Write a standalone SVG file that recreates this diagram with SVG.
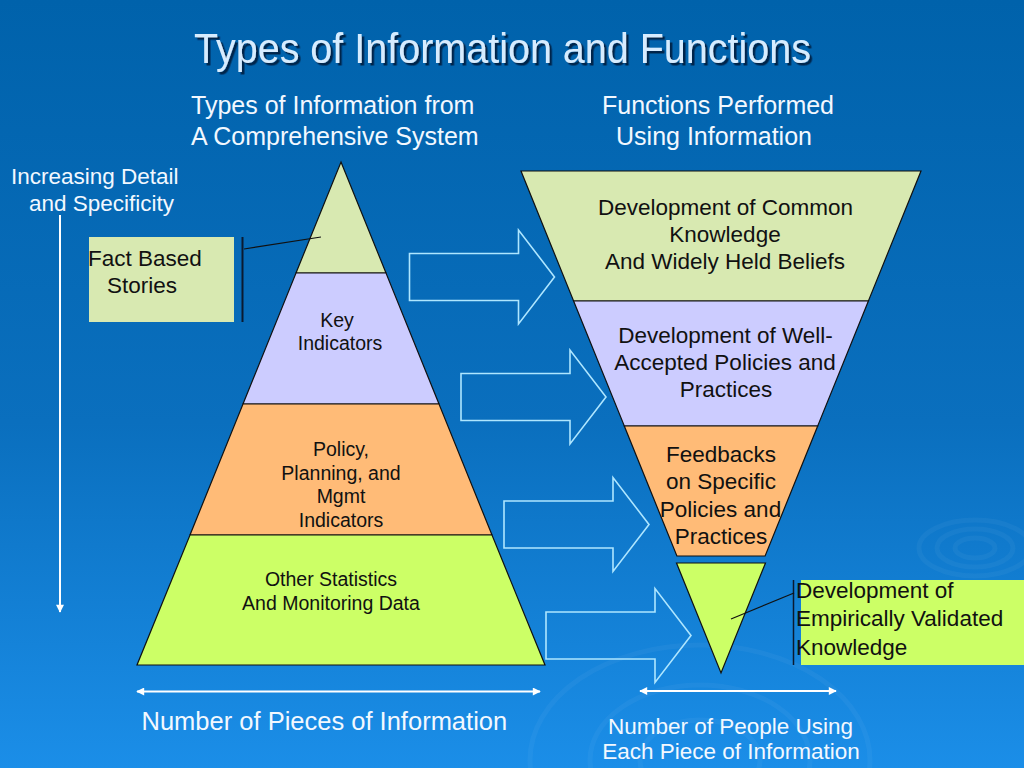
<svg xmlns="http://www.w3.org/2000/svg" xmlns:xlink="http://www.w3.org/1999/xlink" width="1024" height="768" viewBox="0 0 1024 768">
<defs>
<linearGradient id="bg" x1="0" y1="0" x2="0" y2="1">
<stop offset="0" stop-color="#0062ab"/>
<stop offset="0.55" stop-color="#0a6fbe"/>
<stop offset="1" stop-color="#1b8ee8"/>
</linearGradient>
<filter id="shadow" x="-5%" y="-20%" width="110%" height="140%">
<feDropShadow dx="2.5" dy="2.5" stdDeviation="0.6" flood-color="#001a40" flood-opacity="0.9"/>
</filter>
<marker id="ah" viewBox="0 0 10 10" refX="9" refY="5" markerWidth="9" markerHeight="8" markerUnits="userSpaceOnUse" orient="auto-start-reverse">
<path d="M0,0 L10,5 L0,10 Z" fill="#ffffff"/>
</marker>
<path id="blockArrow" d="M0,-23.5 H109 V-47 L145,0 L109,47 V23.5 H0 Z"/>
</defs>
<style>
.band{stroke:#111;stroke-width:1.2;}
.g1{fill:#d8e9b1;}
.lav{fill:#ccccff;}
.org{fill:#ffbb77;}
.lime{fill:#ccff66;}
.dk{font-family:"Liberation Sans",Arial,sans-serif;fill:#111;text-anchor:middle;}
.wt{font-family:"Liberation Sans",Arial,sans-serif;fill:#f2f8ff;}
.barrow{fill:none;stroke:#aee6ff;stroke-width:1.6;stroke-linejoin:miter;}
.wline{stroke:#ffffff;stroke-width:2;fill:none;}
.ripple{fill:none;stroke:#ffffff;stroke-opacity:0.04;stroke-width:5;}
</style>

<rect width="1024" height="768" fill="url(#bg)"/>
<g id="ripples">
<ellipse class="ripple" cx="975" cy="548" rx="20" ry="10"/>
<ellipse class="ripple" cx="975" cy="548" rx="38" ry="19"/>
<ellipse class="ripple" cx="975" cy="548" rx="56" ry="28"/>
<ellipse class="ripple" cx="700" cy="760" rx="60" ry="40"/>
<ellipse class="ripple" cx="700" cy="760" rx="110" ry="75"/>
<ellipse class="ripple" cx="700" cy="760" rx="170" ry="115"/>
</g>

<text class="wt" x="194" y="63" font-size="42" textLength="617" lengthAdjust="spacingAndGlyphs" filter="url(#shadow)" style="fill:#d6ecff">Types of Information and Functions</text>

<g id="subtitle-left">
<text class="wt" x="191" y="114" font-size="25">Types of Information from</text>
<text class="wt" x="191" y="145" font-size="25">A Comprehensive System</text>
</g>
<g id="subtitle-right">
<text class="wt" x="718" y="114" font-size="25" style="text-anchor:middle">Functions Performed</text>
<text class="wt" x="714" y="145" font-size="25" style="text-anchor:middle">Using Information</text>
</g>

<g id="increasing-label">
<text class="wt" x="11" y="184" font-size="22.5">Increasing Detail</text>
<text class="wt" x="29" y="211" font-size="22.5">and Specificity</text>
</g>

<g id="pyramid">
<g id="fact-top"><polygon class="band g1" points="341,162 386,273 296,273"/></g>
<g id="key-indicators">
<polygon class="band lav" points="296,273 386,273 439,404 243,404"/>
<text class="dk" font-size="19.5"><tspan x="337" y="327">Key</tspan><tspan x="340" y="350">Indicators</tspan></text>
</g>
<g id="policy-indicators">
<polygon class="band org" points="243,404 439,404 492,535 190,535"/>
<text class="dk" font-size="19.5"><tspan x="341" y="456">Policy,</tspan><tspan x="341" y="480">Planning, and</tspan><tspan x="341" y="503">Mgmt</tspan><tspan x="341" y="527">Indicators</tspan></text>
</g>
<g id="other-statistics">
<polygon class="band lime" points="190,535 492,535 545,665 137,665"/>
<text class="dk" font-size="19.5"><tspan x="331" y="586">Other Statistics</tspan><tspan x="331" y="610">And Monitoring Data</tspan></text>
</g>
</g>

<g id="fact-based-stories">
<rect x="89" y="237" width="145" height="85" class="g1"/>
<text class="dk" font-size="22.5" style="text-anchor:start"><tspan x="88" y="266">Fact Based</tspan><tspan x="107" y="293">Stories</tspan></text>
</g>

<g id="funnel">
<g id="common-knowledge">
<polygon class="band g1" points="521,171 921,171 868.4,301 573.6,301"/>
<text class="dk" font-size="22.5"><tspan x="725.5" y="215">Development of Common</tspan><tspan x="725" y="242">Knowledge</tspan><tspan x="725" y="269">And Widely Held Beliefs</tspan></text>
</g>
<g id="well-accepted">
<polygon class="band lav" points="573.6,301 868.4,301 817.7,426 624.3,426"/>
<text class="dk" font-size="22.5"><tspan x="725.5" y="343">Development of Well-</tspan><tspan x="725" y="370">Accepted Policies and</tspan><tspan x="726" y="397">Practices</tspan></text>
</g>
<g id="feedbacks">
<polygon class="band org" points="624.3,426 817.7,426 765.1,556 676.9,556"/>
<text class="dk" font-size="22.5"><tspan x="721" y="462">Feedbacks</tspan><tspan x="721" y="489">on Specific</tspan><tspan x="720.5" y="517">Policies and</tspan><tspan x="721" y="544">Practices</tspan></text>
</g>
<g id="empirical-tip"><polygon class="band lime" points="676.5,563 765.5,563 721,673"/></g>
</g>

<g id="empirical-label">
<rect x="801" y="580" width="223" height="85" class="lime"/>
<text class="dk" font-size="22.5" style="text-anchor:start"><tspan x="796" y="598">Development of</tspan><tspan x="796" y="626">Empirically Validated</tspan><tspan x="796" y="655">Knowledge</tspan></text>
</g>

<g id="connectors">
<line x1="242.5" y1="237" x2="242.5" y2="322" stroke="#0a1a30" stroke-width="2"/>
<line x1="244" y1="249" x2="321" y2="237" stroke="#111" stroke-width="1.2"/>
<line x1="793.5" y1="580" x2="793.5" y2="665" stroke="#0a1a30" stroke-width="1.5"/>
<line x1="794" y1="593" x2="731" y2="619" stroke="#111" stroke-width="1.2"/>
<line class="wline" x1="60" y1="215" x2="60" y2="612" marker-end="url(#ah)" stroke-width="1.6"/>
<line class="wline" x1="137" y1="691.5" x2="540" y2="691.5" marker-start="url(#ah)" marker-end="url(#ah)"/>
<line class="wline" x1="640" y1="691" x2="836" y2="691" marker-start="url(#ah)" marker-end="url(#ah)"/>
<use xlink:href="#blockArrow" href="#blockArrow" class="barrow" transform="translate(409.5,277)"/>
<use xlink:href="#blockArrow" href="#blockArrow" class="barrow" transform="translate(461,397)"/>
<use xlink:href="#blockArrow" href="#blockArrow" class="barrow" transform="translate(504,524.5)"/>
<use xlink:href="#blockArrow" href="#blockArrow" class="barrow" transform="translate(546,635.5)"/>
</g>

<g id="axis-labels">
<text class="wt" x="141.5" y="730" font-size="25.5">Number of Pieces of Information</text>
<text class="wt" x="730.5" y="734" font-size="22.5" style="text-anchor:middle">Number of People Using</text>
<text class="wt" x="731" y="759" font-size="22.5" style="text-anchor:middle">Each Piece of Information</text>
</g>
</svg>
